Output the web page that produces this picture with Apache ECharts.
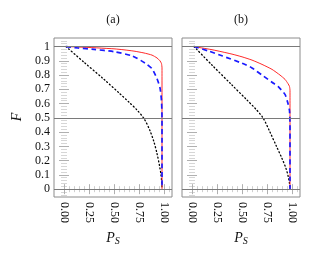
<!DOCTYPE html>
<html><head><meta charset="utf-8">
<script src="https://cdn.jsdelivr.net/npm/echarts@6/dist/echarts.min.js"></script>
<style>html,body{margin:0;padding:0;background:#fff}#c{width:316px;height:261px}</style>
</head><body><div id="c"></div>
<script>
// ---- data ----
var panelTitles = ['(a)', '(b)'];
var xTicks = [0, 0.25, 0.5, 0.75, 1];
var xTickLabels = ['0.00', '0.25', '0.50', '0.75', '1.00'];
var yTicks = [0, 0.1, 0.2, 0.3, 0.4, 0.5, 0.6, 0.7, 0.8, 0.9, 1];
var yTickLabels = ['0', '0.1', '0.2', '0.3', '0.4', '0.5', '0.6', '0.7', '0.8', '0.9', '1'];
var refLines = [0, 0.5, 1];

var aRedX = [0.02, 0.1, 0.2, 0.3, 0.4, 0.5, 0.6, 0.7, 0.8, 0.88, 0.93, 0.96, 0.975, 0.98, 0.98];
var aRedY = [1, 0.998, 0.995, 0.992, 0.988, 0.984, 0.977, 0.968, 0.955, 0.94, 0.92, 0.9, 0.88, 0.85, 0];
var aBlueX = [0.02, 0.14, 0.3, 0.5, 0.68, 0.81, 0.88, 0.93, 0.96, 0.975, 0.98, 0.98];
var aBlueY = [1, 0.99, 0.98, 0.964, 0.935, 0.885, 0.845, 0.775, 0.71, 0.62, 0.5, 0];
var aDotX = [0.02, 0.2, 0.4, 0.55, 0.65, 0.73, 0.8, 0.86, 0.9, 0.93, 0.955, 0.97, 0.978, 0.98];
var aDotY = [1, 0.89, 0.77, 0.675, 0.61, 0.555, 0.495, 0.41, 0.33, 0.25, 0.165, 0.1, 0.04, 0];

var bRedX = [0.02, 0.1, 0.2, 0.3, 0.4, 0.5, 0.6, 0.7, 0.8, 0.88, 0.93, 0.96, 0.975, 0.98, 0.98];
var bRedY = [1, 0.99, 0.978, 0.963, 0.947, 0.928, 0.905, 0.875, 0.84, 0.8, 0.77, 0.74, 0.72, 0.69, 0];
var bBlueX = [0.02, 0.16, 0.3, 0.5, 0.6, 0.7, 0.8, 0.86, 0.93, 0.96, 0.975, 0.98, 0.98];
var bBlueY = [1, 0.97, 0.935, 0.883, 0.85, 0.8, 0.75, 0.72, 0.665, 0.6, 0.55, 0.45, 0];
var bDotX = [0.02, 0.2, 0.4, 0.55, 0.64, 0.71, 0.78, 0.845, 0.9, 0.94, 0.962, 0.975, 0.98];
var bDotY = [1, 0.87, 0.73, 0.625, 0.56, 0.5, 0.4, 0.3, 0.215, 0.145, 0.09, 0.04, 0];

function zip(xs, ys) { return xs.map(function (x, i) { return [x, ys[i]]; }); }
function range(a, b, s) { var r = []; for (var v = a; v <= b + 1e-9; v += s) r.push(Math.round(v * 1000) / 1000); return r; }
var xMinor = range(0, 1.05, 0.05).filter(function (v) { return xTicks.indexOf(v) < 0; });
var yMinor = range(-0.04, 1.04, 0.02).filter(function (v) { return yTicks.indexOf(v) < 0; });

var FONT = "'Liberation Serif', 'Times New Roman', serif";
var XMIN = -0.1, XMAX = 1.08, YMIN = -0.055, YMAX = 1.06;
var grids = [
  { left: 54, top: 38, width: 118, height: 159 },
  { left: 182, top: 38, width: 118, height: 159 }
];
var option = { animation: false, grid: [], xAxis: [], yAxis: [], series: [], graphic: [] };

grids.forEach(function (g, gi) {
  option.grid.push({ left: g.left, top: g.top, width: g.width, height: g.height, show: true, borderColor: '#8c8c8c', borderWidth: 1, containLabel: false });
  var base = option.xAxis.length;
  [['bottom', true, xTicks, 5, '#b0b0b0'], ['top', false, xTicks, 5, '#b0b0b0'], ['bottom', false, xMinor, 3, '#cfcfcf'], ['top', false, xMinor, 3, '#cfcfcf']].forEach(function (c) {
    option.xAxis.push({
      type: 'value', gridIndex: gi, position: c[0], min: XMIN, max: XMAX,
      axisLine: { show: false }, splitLine: { show: false },
      axisTick: { show: true, inside: true, length: c[3], customValues: c[2], lineStyle: { color: c[4], width: 1 } },
      axisLabel: c[1] ? { show: true, customValues: xTicks, rotate: -90, margin: 5, fontFamily: FONT, fontSize: 12, color: '#111',
        formatter: function (v) { var i = xTicks.indexOf(+v.toFixed(2)); return i >= 0 ? xTickLabels[i] : ''; } } : { show: false }
    });
  });
  [['left', gi === 0, yTicks, 5, '#b0b0b0'], ['right', false, yTicks, 5, '#b0b0b0'], ['left', false, yMinor, 3, '#d6d6d6'], ['right', false, yMinor, 3, '#d6d6d6']].forEach(function (c) {
    option.yAxis.push({
      type: 'value', gridIndex: gi, position: c[0], min: YMIN, max: YMAX,
      axisLine: { show: false }, splitLine: { show: false },
      axisTick: { show: true, inside: true, length: c[3], customValues: c[2], lineStyle: { color: c[4], width: 1 } },
      axisLabel: c[1] ? { show: true, customValues: yTicks, margin: 4, fontFamily: FONT, fontSize: 12, color: '#111',
        formatter: function (v) { var i = yTicks.indexOf(+v.toFixed(2)); return i >= 0 ? yTickLabels[i] : ''; } } : { show: false }
    });
  });
  var sets = gi === 0 ? [aRedX, aRedY, aBlueX, aBlueY, aDotX, aDotY] : [bRedX, bRedY, bBlueX, bBlueY, bDotX, bDotY];
  option.series.push({
    type: 'line', xAxisIndex: base, yAxisIndex: base, data: [], silent: true,
    markLine: { silent: true, symbol: 'none', label: { show: false }, lineStyle: { color: '#7a7a7a', width: 1, type: 'solid' },
      data: refLines.map(function (v) { return { yAxis: v }; }) }
  });
  option.series.push({ type: 'line', xAxisIndex: base, yAxisIndex: base, data: zip(sets[4], sets[5]), showSymbol: false, smooth: 0.3,
    lineStyle: { color: '#000', width: 1.3, type: [1, 2.6], cap: 'round' } });
  option.series.push({ type: 'line', xAxisIndex: base, yAxisIndex: base, data: zip(sets[0], sets[1]), showSymbol: false, smooth: 0.2,
    lineStyle: { color: '#ff2a2a', width: 1 } });
  option.series.push({ type: 'line', xAxisIndex: base, yAxisIndex: base, data: zip(sets[2], sets[3]), showSymbol: false, smooth: 0.2,
    lineStyle: { color: '#1a1aff', width: 1.7, type: [5, 3.5] } });
  var cx = g.left + g.width / 2;
  option.graphic.push({ type: 'text', x: cx, y: 20, style: { text: panelTitles[gi], font: '12px ' + FONT, fill: '#111', align: 'center', verticalAlign: 'middle' } });
  option.graphic.push({ type: 'text', x: cx, y: 238, style: { text: '{p|P}{s|S}', align: 'center', verticalAlign: 'middle',
    rich: { p: { fontFamily: FONT, fontStyle: 'italic', fontSize: 14, fill: '#111' }, s: { fontFamily: FONT, fontStyle: 'italic', fontSize: 10, fill: '#111', padding: [6, 0, 0, 0] } } } });
});
option.graphic.push({ type: 'text', x: 17, y: 117, rotation: Math.PI / 2, style: { text: 'F', font: 'italic 14px ' + FONT, fill: '#111', align: 'center', verticalAlign: 'middle' } });

var chart = echarts.init(document.getElementById('c'), null, { renderer: 'canvas' });
chart.setOption(option);
</script></body></html>
